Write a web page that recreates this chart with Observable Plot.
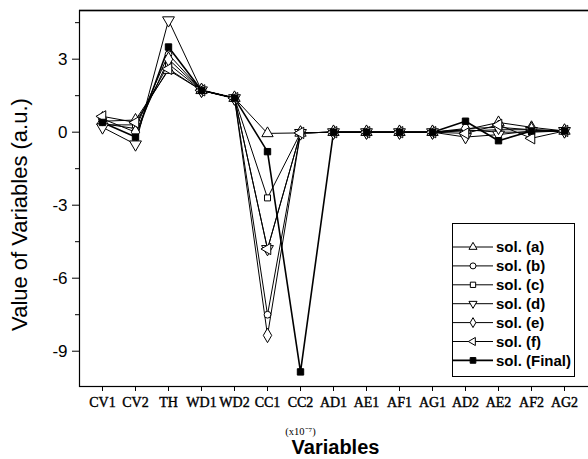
<!DOCTYPE html>
<html><head><meta charset="utf-8">
<script src="https://cdn.jsdelivr.net/npm/d3@7"></script>
<script src="https://cdn.jsdelivr.net/npm/@observablehq/plot@0.6"></script>
<style>body{margin:0;background:#fff}#chart{position:relative;width:588px;height:459px;overflow:hidden}</style>
</head><body><div id="chart"></div>
<script>
const variables = ["CV1","CV2","TH","WD1","WD2","CC1","CC2","AD1","AE1","AF1","AG1","AD2","AE2","AF2","AG2"];
const seriesNames = ["sol. (a)","sol. (b)","sol. (c)","sol. (d)","sol. (e)","sol. (f)","sol. (Final)"];
const solA     = [0.45, 0.5, 2.55, 1.72, 1.4, -0.05, -0.03, 0, 0, 0, 0, 0.1, 0.4, 0.2, 0.05];
const solB     = [0.35, 0.15, 3.2, 1.72, 1.4, -7.5, -0.03, 0, 0, 0, 0, 0.05, 0.1, 0.1, 0.05];
const solC     = [0.3, 0.3, 2.8, 1.72, 1.4, -2.7, -0.03, 0, 0, 0, 0, 0.1, 0.0, 0.0, 0.05];
const solD     = [0.2, -0.5, 4.6, 1.72, 1.4, -4.8, -0.03, 0, 0, 0, 0, -0.2, -0.1, 0.05, 0.05];
const solE     = [0.55, 0.0, 3.0, 1.72, 1.4, -8.35, -0.03, 0, 0, 0, 0, 0.15, 0.2, 0.1, 0.05];
const solF     = [0.65, 0.4, 2.6, 1.72, 1.4, -4.8, -0.03, 0, 0, 0, 0, -0.05, 0.3, -0.25, 0.05];
const solFinal = [0.4, -0.2, 3.5, 1.72, 1.4, -0.8, -9.85, 0, 0, 0, 0, 0.45, -0.35, 0.05, 0.05];
const yMajorTicks = [-9, -6, -3, 0, 3];
const yMinorTicks = [-7.5, -4.5, -1.5, 1.5, 4.5];

const sqrt3 = Math.sqrt(3);
const triDown = {draw(c, size){ const y = -Math.sqrt(size/(sqrt3*3)); c.moveTo(0,-y*2); c.lineTo(-sqrt3*y, y); c.lineTo(sqrt3*y, y); c.closePath(); }};
const triLeft = {draw(c, size){ const y = -Math.sqrt(size/(sqrt3*3)); c.moveTo(y*2,0); c.lineTo(-y, -sqrt3*y); c.lineTo(-y, sqrt3*y); c.closePath(); }};
const symbols = [d3.symbolTriangle, d3.symbolCircle, d3.symbolSquare, triDown, d3.symbolDiamond, triLeft, d3.symbolSquare];
const fills = ["white","white","white","white","white","white","black"];
const radii = [4.2, 3.4, 3.4, 4.4, 4.4, 4.2, 3.6];

const allValues = [solA, solB, solC, solD, solE, solF, solFinal];
const rows = allValues.map((vals, s) => vals.map((v, i) => ({series: seriesNames[s], s, variable: variables[i], value: v})));

const sans = "Liberation Sans, Arial, sans-serif";
const serif = "Liberation Serif, serif";
const marks = [
  Plot.ruleY([5], {stroke: "black", strokeWidth: 1.5}),
  Plot.frame({stroke: "black", strokeWidth: 1.2, fill: "none"}),
  Plot.axisY({ticks: yMajorTicks, tickSize: 7, tickPadding: 5, fontSize: 17, fontFamily: sans, label: null, tickFormat: d => d}),
  Plot.axisY({ticks: yMinorTicks, tickSize: 4, label: null, tickFormat: () => ""}),
  Plot.axisX({tickSize: 5, tickPadding: 6, fontSize: 14, fontFamily: serif, label: null, textStroke: "black", textStrokeWidth: 0.4}),
  Plot.text(["Value of Variables (a.u.)"], {frameAnchor: "left", textAnchor: "middle", lineAnchor: "middle", rotate: -90, dx: -60, dy: 16, fontSize: 22, fontFamily: sans, letterSpacing: 1}),
  Plot.text(["(x10\u207B\u2077)"], {x: ["CC2"], frameAnchor: "bottom", lineAnchor: "middle", dy: 45, fontSize: 10.5, fontFamily: serif}),
  Plot.text(["Variables"], {frameAnchor: "bottom", lineAnchor: "middle", dy: 61, fontSize: 20, fontWeight: "bold", fontFamily: sans, letterSpacing: 0.8})
];
for (let s = 0; s < 6; s++) marks.push(Plot.line(rows[s], {x: "variable", y: "value", stroke: "black", strokeWidth: 1}));
marks.push(Plot.line(rows[6], {x: "variable", y: "value", stroke: "black", strokeWidth: 1.6}));
for (let s = 0; s < 7; s++) marks.push(Plot.dot(rows[s], {x: "variable", y: "value", symbol: symbols[s], r: radii[s], fill: fills[s], stroke: "black", strokeWidth: 1}));

const plot = Plot.plot({
  width: 588, height: 459,
  marginLeft: 79, marginRight: -3, marginTop: 10, marginBottom: 73,
  x: {type: "point", domain: variables, padding: 0.574, align: 0.464},
  y: {domain: [-10.45, 5]},
  style: {background: "white", color: "black"},
  marks
});
document.getElementById("chart").appendChild(plot);

// legend box
const svg = d3.select(plot);
const lg = svg.append("g").attr("transform", "translate(452,223)");
lg.append("rect").attr("x", 0.5).attr("y", 0.5).attr("width", 122).attr("height", 153).attr("fill", "white").attr("stroke", "black").attr("stroke-width", 1);
seriesNames.forEach((name, s) => {
  const y = 24 + s * 18.9;
  const row = lg.append("g").attr("transform", `translate(0,${y})`);
  row.append("line").attr("x1", 1).attr("x2", 41).attr("stroke", "black").attr("stroke-width", s === 6 ? 1.6 : 1);
  const r = s === 6 ? 3.2 : 3;
  row.append("path").attr("transform", "translate(21,0)").attr("d", d3.symbol(symbols[s], Math.PI * r * r)()).attr("fill", fills[s]).attr("stroke", "black");
  row.append("text").attr("x", 44).attr("dy", "0.35em").attr("text-anchor", "start").attr("font-size", 15).attr("font-weight", "bold").attr("font-family", sans).text(name);
});
</script></body></html>
